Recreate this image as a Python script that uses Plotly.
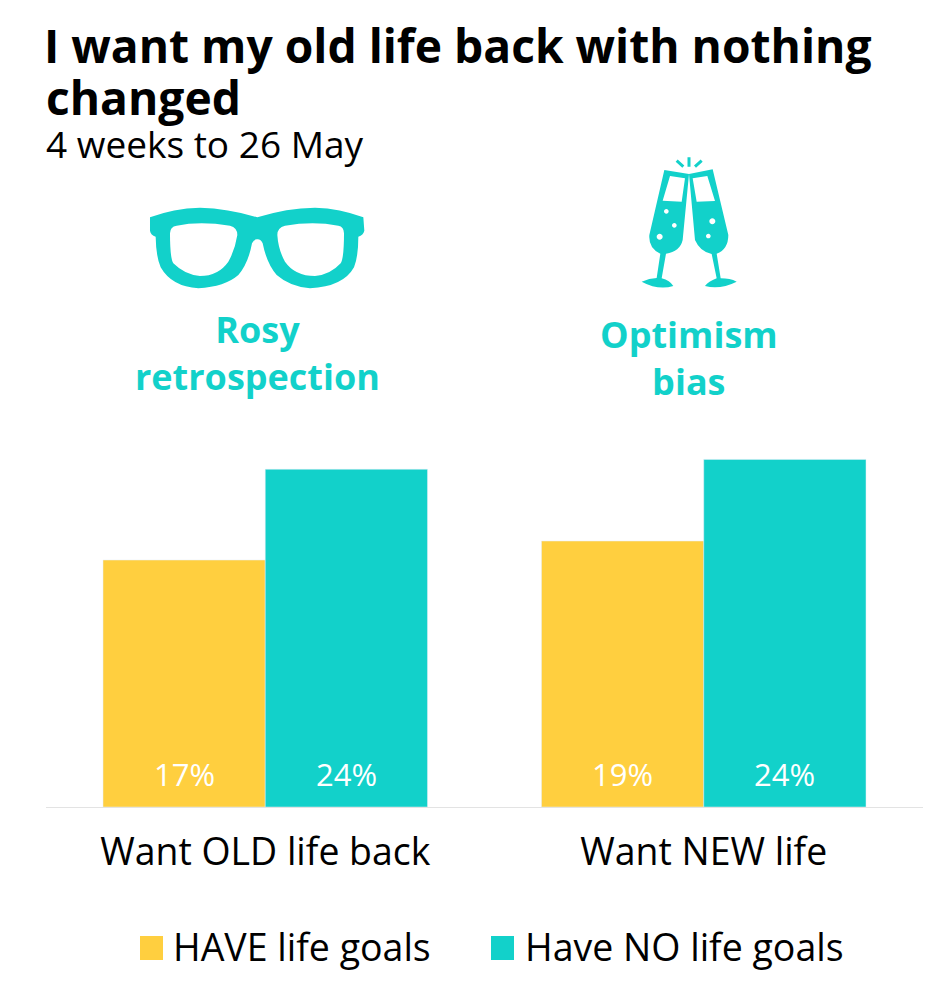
import re
import plotly.graph_objects as go

W, H = 940, 1003

categories = ["Want OLD life back", "Want NEW life"]
series_names = ["HAVE life goals", "Have NO life goals"]
have_goals = [17.55, 18.9]
no_goals = [24.0, 24.7]
have_labels = ["17%", "19%"]
no_labels = ["24%", "24%"]

YELLOW = "#FFCF3F"
TEAL = "#12D1CA"
FONT = "Open Sans"


def to_paper(path, ox=0, oy=0, scale=1):
    # converte coordenadas de pixel em fração da página
    def conv(m):
        x = (float(m.group(1)) / scale + ox) / W
        y = 1 - (float(m.group(2)) / scale + oy) / H
        return f"{x:.5f} {y:.5f}"
    return re.sub(r"(-?[\d.]+) (-?[\d.]+)", conv, path)


def circle(cx, cy, r):
    k = r * 0.55
    return (f"M{cx - r} {cy} C{cx - r} {cy - k} {cx - k} {cy - r} {cx} {cy - r} "
            f"C{cx + k} {cy - r} {cx + r} {cy - k} {cx + r} {cy} "
            f"C{cx + r} {cy + k} {cx + k} {cy + r} {cx} {cy + r} "
            f"C{cx - k} {cy + r} {cx - r} {cy + k} {cx - r} {cy} Z ")


glasses = (
    "M382 82 Q470 54 555 53 Q630 55 700 82 L703 122 Q700 135 685 140 Q685 200 672 232 "
    "Q640 290 540 295 Q480 290 440 255 Q410 220 398 160 Q392 147 382 148 Q372 147 366 160 "
    "Q355 220 325 255 Q285 290 205 295 Q125 290 92 232 Q78 200 77 140 Q62 135 60 122 L60 82 "
    "Q130 55 210 53 Q295 55 382 82 Z "
    "M120 130 Q120 110 140 107 Q210 93 300 107 Q322 112 322 135 Q315 180 295 215 "
    "Q265 258 210 258 Q165 255 130 220 Q120 205 120 130 Z "
    "M442 135 Q442 112 465 107 Q550 93 625 107 Q642 110 642 130 Q642 205 632 220 "
    "Q600 255 555 258 Q495 258 465 215 Q445 180 442 135 Z"
)
flute_left = (
    "M133 60 L207 72 L188 270 Q180 305 138 311 L125 385 Q150 392 160 408 Q115 422 65 395 "
    "Q88 385 110 384 L121 311 Q85 295 88 255 Z "
    "M150 78 L195 85 L185 155 L128 152 Z "
    + circle(139, 184, 7) + circle(163, 226, 7) + circle(119, 260, 9)
)
flute_right = (
    "M278 58 L207 72 L225 270 Q240 305 275 312 L290 385 Q265 395 255 408 Q300 420 350 395 "
    "Q330 385 302 385 L290 311 Q325 298 325 255 Z "
    "M218 85 L262 78 L285 153 L230 155 Z "
    + circle(277, 214, 9) + circle(265, 258, 7)
)
sparks = "M207 22 L207 50 M170 32 L190 50 M245 32 L225 50"

fig = go.Figure()
fig.add_trace(go.Bar(x=categories, y=have_goals, name=series_names[0], marker_color=YELLOW))
fig.add_trace(go.Bar(x=categories, y=no_goals, name=series_names[1], marker_color=TEAL))

annotations = []


def add_text(text, x, y, size, color="black", bold=False, align="left"):
    annotations.append(dict(
        text=f"<b>{text}</b>" if bold else text, x=x / W, y=1 - y / H, xref="paper", yref="paper",
        xanchor=align, yanchor="middle", align=align, showarrow=False,
        font=dict(family=FONT, size=size, color=color),
    ))


add_text("changed", 44, 97, 46.2, bold=True)
add_text("4 weeks to 26 May", 44, 143, 37)
add_text("Rosy<br>retrospection", 257, 353, 36, TEAL, True, "center")
add_text("Optimism<br>bias", 689, 358, 36, TEAL, True, "center")

# etiquetas dentro de las barras
for i, cat in enumerate(categories):
    for labels, shift in ((have_labels, -81), (no_labels, 81)):
        annotations.append(dict(
            text=labels[i], x=cat, y=0, xref="x", yref="y", xshift=shift, yshift=33,
            yanchor="middle", showarrow=False,
            font=dict(family=FONT, size=31, color="white"),
        ))

# leyenda
add_text(series_names[0], 171, 946, 37.5)
add_text(series_names[1], 523, 946, 37.5)

shapes = [
    dict(type="path", xref="paper", yref="paper", path=to_paper(glasses, 130, 190, 3),
         fillcolor=TEAL, line_width=0, fillrule="evenodd"),
    dict(type="path", xref="paper", yref="paper", path=to_paper(flute_left, 620, 150, 3),
         fillcolor=TEAL, line_width=0, fillrule="evenodd"),
    dict(type="path", xref="paper", yref="paper", path=to_paper(flute_right, 620, 150, 3),
         fillcolor=TEAL, line_width=0, fillrule="evenodd"),
    dict(type="path", xref="paper", yref="paper", path=to_paper(sparks, 620, 150, 3),
         line=dict(color=TEAL, width=3)),
]
for x0, color in ((140, YELLOW), (491, TEAL)):
    shapes.append(dict(type="rect", xref="paper", yref="paper", x0=x0 / W, x1=(x0 + 23) / W,
                       y0=1 - 960 / H, y1=1 - 936 / H, fillcolor=color, line_width=0))

fig.update_layout(
    width=W, height=H,
    margin=dict(l=0, r=0, t=0, b=0),
    paper_bgcolor="white", plot_bgcolor="white",
    showlegend=False,
    barmode="group", bargap=0.26, bargroupgap=0,
    title=dict(
        text="<b>I want my old life back with nothing</b>",
        x=44 / W, xanchor="left", xref="paper", y=1 - 47 / H, yanchor="middle", yref="paper",
        font=dict(family=FONT, size=46.2, color="black"),
    ),
    xaxis=dict(
        domain=[46 / W, 923 / W], showline=True, linecolor="#E3E3E3", linewidth=1,
        showgrid=False, ticks="", ticklabelstandoff=12,
        tickfont=dict(family=FONT, size=37.4, color="black"),
    ),
    yaxis=dict(domain=[1 - 807 / H, 1 - 420 / H], range=[0, 27.5], visible=False),
    annotations=annotations,
    shapes=shapes,
)

fig.write_html("out.html", config={"displayModeBar": False},
               post_script="document.body.style.margin='0';")
